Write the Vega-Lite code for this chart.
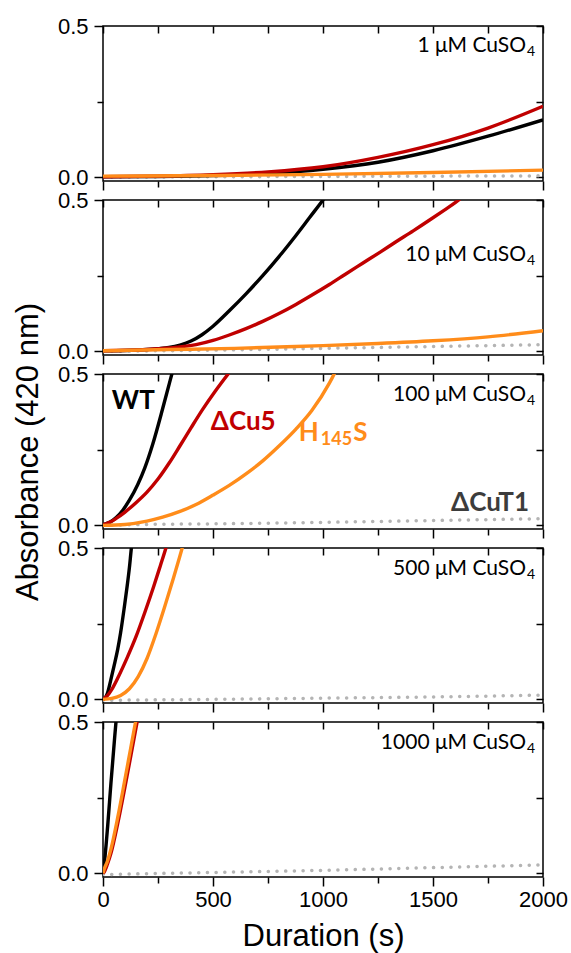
{
"$schema":"https://vega.github.io/schema/vega-lite/v6.json",
"padding":{"left":11,"top":14,"right":5,"bottom":3},
"background":"#ffffff",
"spacing":19,
"bounds":"flush",
"config":{
 "view":{"stroke":"#000000","strokeWidth":1.5},
 "line":{"interpolate":"monotone"},
 "axis":{"domain":false,"grid":false,"tickColor":"#000000","tickWidth":1.5,"labelColor":"#000000","labelFont":"Liberation Sans","labelFontSize":22,"titleFont":"Liberation Sans","titleFontSize":31,"titleFontWeight":"normal","titleColor":"#000000","labelFlush":false,"labelOverlap":false}
},
"datasets":{
 "curves":[
  {"p":"1","s":"WT","t":0,"a":0.002},{"p":"1","s":"WT","t":250,"a":0.003},{"p":"1","s":"WT","t":500,"a":0.006},{"p":"1","s":"WT","t":750,"a":0.013},{"p":"1","s":"WT","t":1000,"a":0.027},{"p":"1","s":"WT","t":1250,"a":0.05},{"p":"1","s":"WT","t":1500,"a":0.088},{"p":"1","s":"WT","t":1750,"a":0.136},{"p":"1","s":"WT","t":2000,"a":0.19},
  {"p":"1","s":"ΔCu5","t":0,"a":0.002},{"p":"1","s":"ΔCu5","t":250,"a":0.004},{"p":"1","s":"ΔCu5","t":500,"a":0.009},{"p":"1","s":"ΔCu5","t":750,"a":0.018},{"p":"1","s":"ΔCu5","t":1000,"a":0.035},{"p":"1","s":"ΔCu5","t":1250,"a":0.066},{"p":"1","s":"ΔCu5","t":1500,"a":0.108},{"p":"1","s":"ΔCu5","t":1750,"a":0.163},{"p":"1","s":"ΔCu5","t":2000,"a":0.235},
  {"p":"1","s":"H145S","t":0,"a":0.004},{"p":"1","s":"H145S","t":500,"a":0.006},{"p":"1","s":"H145S","t":1000,"a":0.01},{"p":"1","s":"H145S","t":1500,"a":0.016},{"p":"1","s":"H145S","t":2000,"a":0.024},
  {"p":"1","s":"ΔCuT1","t":0,"a":0.001},{"p":"1","s":"ΔCuT1","t":500,"a":0.002},{"p":"1","s":"ΔCuT1","t":1000,"a":0.003},{"p":"1","s":"ΔCuT1","t":1500,"a":0.004},{"p":"1","s":"ΔCuT1","t":2000,"a":0.005},

  {"p":"10","s":"WT","t":0,"a":0.002},{"p":"10","s":"WT","t":100,"a":0.003},{"p":"10","s":"WT","t":200,"a":0.006},{"p":"10","s":"WT","t":250,"a":0.009},{"p":"10","s":"WT","t":300,"a":0.013},{"p":"10","s":"WT","t":350,"a":0.021},{"p":"10","s":"WT","t":400,"a":0.034},{"p":"10","s":"WT","t":450,"a":0.055},{"p":"10","s":"WT","t":500,"a":0.083},{"p":"10","s":"WT","t":574,"a":0.134},{"p":"10","s":"WT","t":650,"a":0.19},{"p":"10","s":"WT","t":726,"a":0.25},{"p":"10","s":"WT","t":800,"a":0.313},{"p":"10","s":"WT","t":877,"a":0.383},{"p":"10","s":"WT","t":940,"a":0.443},{"p":"10","s":"WT","t":1000,"a":0.5},{"p":"10","s":"WT","t":1020,"a":0.52},
  {"p":"10","s":"ΔCu5","t":0,"a":0.002},{"p":"10","s":"ΔCu5","t":200,"a":0.006},{"p":"10","s":"ΔCu5","t":300,"a":0.011},{"p":"10","s":"ΔCu5","t":423,"a":0.022},{"p":"10","s":"ΔCu5","t":500,"a":0.036},{"p":"10","s":"ΔCu5","t":574,"a":0.054},{"p":"10","s":"ΔCu5","t":650,"a":0.075},{"p":"10","s":"ΔCu5","t":726,"a":0.099},{"p":"10","s":"ΔCu5","t":800,"a":0.125},{"p":"10","s":"ΔCu5","t":877,"a":0.155},{"p":"10","s":"ΔCu5","t":950,"a":0.186},{"p":"10","s":"ΔCu5","t":1029,"a":0.221},{"p":"10","s":"ΔCu5","t":1100,"a":0.254},{"p":"10","s":"ΔCu5","t":1180,"a":0.291},{"p":"10","s":"ΔCu5","t":1260,"a":0.328},{"p":"10","s":"ΔCu5","t":1332,"a":0.362},{"p":"10","s":"ΔCu5","t":1410,"a":0.398},{"p":"10","s":"ΔCu5","t":1483,"a":0.433},{"p":"10","s":"ΔCu5","t":1550,"a":0.466},{"p":"10","s":"ΔCu5","t":1604,"a":0.493},{"p":"10","s":"ΔCu5","t":1625,"a":0.505},
  {"p":"10","s":"H145S","t":0,"a":0.002},{"p":"10","s":"H145S","t":300,"a":0.006},{"p":"10","s":"H145S","t":600,"a":0.01},{"p":"10","s":"H145S","t":877,"a":0.016},{"p":"10","s":"H145S","t":1000,"a":0.019},{"p":"10","s":"H145S","t":1250,"a":0.026},{"p":"10","s":"H145S","t":1500,"a":0.035},{"p":"10","s":"H145S","t":1750,"a":0.048},{"p":"10","s":"H145S","t":2000,"a":0.068},
  {"p":"10","s":"ΔCuT1","t":0,"a":0.0},{"p":"10","s":"ΔCuT1","t":500,"a":0.004},{"p":"10","s":"ΔCuT1","t":1000,"a":0.01},{"p":"10","s":"ΔCuT1","t":1500,"a":0.016},{"p":"10","s":"ΔCuT1","t":2000,"a":0.022},

  {"p":"100","s":"WT","t":0,"a":0.002},{"p":"100","s":"WT","t":30,"a":0.01},{"p":"100","s":"WT","t":60,"a":0.026},{"p":"100","s":"WT","t":90,"a":0.05},{"p":"100","s":"WT","t":120,"a":0.083},{"p":"100","s":"WT","t":158,"a":0.135},{"p":"100","s":"WT","t":190,"a":0.19},{"p":"100","s":"WT","t":226,"a":0.268},{"p":"100","s":"WT","t":271,"a":0.385},{"p":"100","s":"WT","t":302,"a":0.47},{"p":"100","s":"WT","t":313,"a":0.5},{"p":"100","s":"WT","t":320,"a":0.52},
  {"p":"100","s":"ΔCu5","t":0,"a":0.002},{"p":"100","s":"ΔCu5","t":30,"a":0.01},{"p":"100","s":"ΔCu5","t":60,"a":0.023},{"p":"100","s":"ΔCu5","t":100,"a":0.044},{"p":"100","s":"ΔCu5","t":150,"a":0.075},{"p":"100","s":"ΔCu5","t":200,"a":0.11},{"p":"100","s":"ΔCu5","t":250,"a":0.153},{"p":"100","s":"ΔCu5","t":300,"a":0.205},{"p":"100","s":"ΔCu5","t":350,"a":0.263},{"p":"100","s":"ΔCu5","t":400,"a":0.322},{"p":"100","s":"ΔCu5","t":453,"a":0.383},{"p":"100","s":"ΔCu5","t":510,"a":0.443},{"p":"100","s":"ΔCu5","t":574,"a":0.505},
  {"p":"100","s":"H145S","t":0,"a":0.0},{"p":"100","s":"H145S","t":100,"a":0.003},{"p":"100","s":"H145S","t":200,"a":0.014},{"p":"100","s":"H145S","t":271,"a":0.027},{"p":"100","s":"H145S","t":350,"a":0.046},{"p":"100","s":"H145S","t":423,"a":0.069},{"p":"100","s":"H145S","t":500,"a":0.1},{"p":"100","s":"H145S","t":574,"a":0.132},{"p":"100","s":"H145S","t":650,"a":0.17},{"p":"100","s":"H145S","t":726,"a":0.213},{"p":"100","s":"H145S","t":800,"a":0.262},{"p":"100","s":"H145S","t":877,"a":0.318},{"p":"100","s":"H145S","t":950,"a":0.38},{"p":"100","s":"H145S","t":1029,"a":0.47},{"p":"100","s":"H145S","t":1051,"a":0.5},{"p":"100","s":"H145S","t":1070,"a":0.525},
  {"p":"100","s":"ΔCuT1","t":0,"a":0.0},{"p":"100","s":"ΔCuT1","t":200,"a":0.003},{"p":"100","s":"ΔCuT1","t":500,"a":0.005},{"p":"100","s":"ΔCuT1","t":1000,"a":0.01},{"p":"100","s":"ΔCuT1","t":1500,"a":0.016},{"p":"100","s":"ΔCuT1","t":2000,"a":0.022},

  {"p":"500","s":"WT","t":0,"a":0.0},{"p":"500","s":"WT","t":10,"a":0.005},{"p":"500","s":"WT","t":20,"a":0.02},{"p":"500","s":"WT","t":36,"a":0.066},{"p":"500","s":"WT","t":50,"a":0.11},{"p":"500","s":"WT","t":67,"a":0.166},{"p":"500","s":"WT","t":80,"a":0.22},{"p":"500","s":"WT","t":97,"a":0.305},{"p":"500","s":"WT","t":110,"a":0.375},{"p":"500","s":"WT","t":120,"a":0.435},{"p":"500","s":"WT","t":129,"a":0.5},{"p":"500","s":"WT","t":134,"a":0.53},
  {"p":"500","s":"ΔCu5","t":0,"a":0.0},{"p":"500","s":"ΔCu5","t":20,"a":0.012},{"p":"500","s":"ΔCu5","t":40,"a":0.033},{"p":"500","s":"ΔCu5","t":70,"a":0.075},{"p":"500","s":"ΔCu5","t":110,"a":0.138},{"p":"500","s":"ΔCu5","t":150,"a":0.207},{"p":"500","s":"ΔCu5","t":190,"a":0.287},{"p":"500","s":"ΔCu5","t":230,"a":0.372},{"p":"500","s":"ΔCu5","t":260,"a":0.44},{"p":"500","s":"ΔCu5","t":286,"a":0.5},{"p":"500","s":"ΔCu5","t":292,"a":0.515},
  {"p":"500","s":"H145S","t":0,"a":0.0},{"p":"500","s":"H145S","t":40,"a":0.003},{"p":"500","s":"H145S","t":80,"a":0.013},{"p":"500","s":"H145S","t":120,"a":0.035},{"p":"500","s":"H145S","t":160,"a":0.075},{"p":"500","s":"H145S","t":200,"a":0.135},{"p":"500","s":"H145S","t":240,"a":0.215},{"p":"500","s":"H145S","t":280,"a":0.305},{"p":"500","s":"H145S","t":320,"a":0.4},{"p":"500","s":"H145S","t":360,"a":0.5},{"p":"500","s":"H145S","t":366,"a":0.515},
  {"p":"500","s":"ΔCuT1","t":0,"a":-0.003},{"p":"500","s":"ΔCuT1","t":500,"a":0.0},{"p":"500","s":"ΔCuT1","t":1000,"a":0.004},{"p":"500","s":"ΔCuT1","t":1500,"a":0.008},{"p":"500","s":"ΔCuT1","t":2000,"a":0.014},

  {"p":"1000","s":"WT","t":0,"a":0.0},{"p":"1000","s":"WT","t":6,"a":0.033},{"p":"1000","s":"WT","t":21,"a":0.154},{"p":"1000","s":"WT","t":36,"a":0.297},{"p":"1000","s":"WT","t":52,"a":0.44},{"p":"1000","s":"WT","t":59,"a":0.5},{"p":"1000","s":"WT","t":63,"a":0.53},
  {"p":"1000","s":"ΔCu5","t":0,"a":0.0},{"p":"1000","s":"ΔCu5","t":6,"a":0.005},{"p":"1000","s":"ΔCu5","t":20,"a":0.03},{"p":"1000","s":"ΔCu5","t":36,"a":0.066},{"p":"1000","s":"ΔCu5","t":67,"a":0.165},{"p":"1000","s":"ΔCu5","t":97,"a":0.275},{"p":"1000","s":"ΔCu5","t":127,"a":0.39},{"p":"1000","s":"ΔCu5","t":155,"a":0.5},{"p":"1000","s":"ΔCu5","t":160,"a":0.52},
  {"p":"1000","s":"H145S","t":0,"a":0.0},{"p":"1000","s":"H145S","t":6,"a":0.015},{"p":"1000","s":"H145S","t":20,"a":0.04},{"p":"1000","s":"H145S","t":36,"a":0.08},{"p":"1000","s":"H145S","t":67,"a":0.185},{"p":"1000","s":"H145S","t":97,"a":0.3},{"p":"1000","s":"H145S","t":125,"a":0.41},{"p":"1000","s":"H145S","t":148,"a":0.5},{"p":"1000","s":"H145S","t":152,"a":0.515},
  {"p":"1000","s":"ΔCuT1","t":0,"a":-0.004},{"p":"1000","s":"ΔCuT1","t":200,"a":-0.001},{"p":"1000","s":"ΔCuT1","t":500,"a":0.003},{"p":"1000","s":"ΔCuT1","t":1000,"a":0.01},{"p":"1000","s":"ΔCuT1","t":1500,"a":0.019},{"p":"1000","s":"ΔCuT1","t":2000,"a":0.028}
 ],
 "conds":[
  {"p":"1","txt":"1 μM CuSO","sub":"4","t":1923,"a":0.434},
  {"p":"10","txt":"10 μM CuSO","sub":"4","t":1923,"a":0.319},
  {"p":"100","txt":"100 μM CuSO","sub":"4","t":1923,"a":0.431},
  {"p":"500","txt":"500 μM CuSO","sub":"4","t":1923,"a":0.43},
  {"p":"1000","txt":"1000 μM CuSO","sub":"4","t":1923,"a":0.43}
 ],
 "strains":[
  {"s":"WT","txt":"WT","t":40,"a":0.412},
  {"s":"ΔCu5","txt":"ΔCu5","t":490,"a":0.343},
  {"s":"H145S","txt":"H","t":890,"a":0.304},
  {"s":"H145S","txt":"S","t":1137,"a":0.304},
  {"s":"ΔCuT1","txt":"ΔCuT1","t":1582,"a":0.075}
 ],
 "strainsub":[
  {"s":"H145S","txt":"145","t":990,"a":0.282}
 ]
},
"vconcat":[
 {"width":440,"height":155,
  "layer":[
   {"data":{"name":"curves"},"transform":[{"filter":"datum.p=='1' && datum.s=='ΔCuT1'"}],
    "mark":{"type":"line","color":"#b4b4b4","strokeWidth":3.5,"strokeDash":[0.1,8.6],"strokeCap":"round","clip":true},
    "encoding":{"x":{"field":"t","type":"quantitative","scale":{"domain":[0,2000]},"axis":{"orient":"bottom","values":[0,500,1000,1500,2000],"tickSize":9,"labels":false,"title":null}},
     "y":{"field":"a","type":"quantitative","scale":{"domain":[-0.012,0.5]},"axis":{"orient":"left","values":[0,0.5],"format":".1f","tickSize":9,"labelPadding":6,"title":null}}}},
   {"data":{"name":"curves"},"transform":[{"filter":"datum.p=='1' && datum.s!='ΔCuT1'"}],
    "mark":{"type":"line","strokeWidth":3.4,"clip":true},
    "encoding":{"x":{"field":"t","type":"quantitative","scale":{"domain":[0,2000]},"axis":{"orient":"bottom","values":[250,750,1250,1750],"tickSize":6,"labels":false,"title":null}},
     "y":{"field":"a","type":"quantitative","scale":{"domain":[-0.012,0.5]},"axis":{"orient":"left","values":[0.25],"tickSize":6,"labels":false,"title":null}},
     "color":{"field":"s","type":"nominal","scale":{"domain":["WT","ΔCu5","H145S","ΔCuT1"],"range":["#000000","#c00000","#ff8c1a","#3c3c3c"]},"legend":null}}},
   {"data":{"name":"conds"},"transform":[{"filter":"datum.p=='1'"}],
    "mark":{"type":"text","align":"right","baseline":"middle","font":"Lato","fontSize":21,"color":"#000000"},
    "encoding":{"x":{"field":"t","type":"quantitative","scale":{"domain":[0,2000]},"axis":{"orient":"top","values":[0,250,500,750,1000,1250,1500,1750,2000],"tickSize":-7,"labels":false,"title":null}},
     "y":{"field":"a","type":"quantitative","scale":{"domain":[-0.012,0.5]},"axis":{"orient":"right","values":[0,0.25,0.5],"tickSize":-7,"labels":false,"title":null}},
     "text":{"field":"txt"}}},
   {"data":{"name":"conds"},"transform":[{"filter":"datum.p=='1'"}],
    "mark":{"type":"text","align":"left","baseline":"middle","font":"Lato","fontSize":14,"dy":6,"dx":1,"color":"#000000"},
    "encoding":{"x":{"field":"t","type":"quantitative","scale":{"domain":[0,2000]},"axis":null},"y":{"field":"a","type":"quantitative","scale":{"domain":[-0.012,0.5]},"axis":null},"text":{"field":"sub"}}}
  ],
  "resolve":{"axis":{"x":"independent","y":"independent"}}},

 {"width":440,"height":155,
  "layer":[
   {"data":{"name":"curves"},"transform":[{"filter":"datum.p=='10' && datum.s=='ΔCuT1'"}],
    "mark":{"type":"line","color":"#b4b4b4","strokeWidth":3.5,"strokeDash":[0.1,8.6],"strokeCap":"round","clip":true},
    "encoding":{"x":{"field":"t","type":"quantitative","scale":{"domain":[0,2000]},"axis":{"orient":"bottom","values":[0,500,1000,1500,2000],"tickSize":9,"labels":false,"title":null}},
     "y":{"field":"a","type":"quantitative","scale":{"domain":[-0.012,0.5]},"axis":{"orient":"left","values":[0,0.5],"format":".1f","tickSize":9,"labelPadding":6,"title":null}}}},
   {"data":{"name":"curves"},"transform":[{"filter":"datum.p=='10' && datum.s!='ΔCuT1'"}],
    "mark":{"type":"line","strokeWidth":3.4,"clip":true},
    "encoding":{"x":{"field":"t","type":"quantitative","scale":{"domain":[0,2000]},"axis":{"orient":"bottom","values":[250,750,1250,1750],"tickSize":6,"labels":false,"title":null}},
     "y":{"field":"a","type":"quantitative","scale":{"domain":[-0.012,0.5]},"axis":{"orient":"left","values":[0.25],"tickSize":6,"labels":false,"title":null}},
     "color":{"field":"s","type":"nominal","scale":{"domain":["WT","ΔCu5","H145S","ΔCuT1"],"range":["#000000","#c00000","#ff8c1a","#3c3c3c"]},"legend":null}}},
   {"data":{"name":"conds"},"transform":[{"filter":"datum.p=='10'"}],
    "mark":{"type":"text","align":"right","baseline":"middle","font":"Lato","fontSize":21,"color":"#000000"},
    "encoding":{"x":{"field":"t","type":"quantitative","scale":{"domain":[0,2000]},"axis":{"orient":"top","values":[0,250,500,750,1000,1250,1500,1750,2000],"tickSize":-7,"labels":false,"title":null}},
     "y":{"field":"a","type":"quantitative","scale":{"domain":[-0.012,0.5]},"axis":{"orient":"right","values":[0,0.25,0.5],"tickSize":-7,"labels":false,"title":null}},
     "text":{"field":"txt"}}},
   {"data":{"name":"conds"},"transform":[{"filter":"datum.p=='10'"}],
    "mark":{"type":"text","align":"left","baseline":"middle","font":"Lato","fontSize":14,"dy":6,"dx":1,"color":"#000000"},
    "encoding":{"x":{"field":"t","type":"quantitative","scale":{"domain":[0,2000]},"axis":null},"y":{"field":"a","type":"quantitative","scale":{"domain":[-0.012,0.5]},"axis":null},"text":{"field":"sub"}}}
  ],
  "resolve":{"axis":{"x":"independent","y":"independent"}}},

 {"width":440,"height":155,
  "layer":[
   {"data":{"name":"curves"},"transform":[{"filter":"datum.p=='100' && datum.s=='ΔCuT1'"}],
    "mark":{"type":"line","color":"#b4b4b4","strokeWidth":3.5,"strokeDash":[0.1,8.6],"strokeCap":"round","clip":true},
    "encoding":{"x":{"field":"t","type":"quantitative","scale":{"domain":[0,2000]},"axis":{"orient":"bottom","values":[0,500,1000,1500,2000],"tickSize":9,"labels":false,"title":null}},
     "y":{"field":"a","type":"quantitative","scale":{"domain":[-0.012,0.5]},"axis":{"orient":"left","values":[0,0.5],"format":".1f","tickSize":9,"labelPadding":6,"title":"Absorbance (420 nm)","titlePadding":13}}}},
   {"data":{"name":"curves"},"transform":[{"filter":"datum.p=='100' && datum.s!='ΔCuT1'"}],
    "mark":{"type":"line","strokeWidth":3.4,"clip":true},
    "encoding":{"x":{"field":"t","type":"quantitative","scale":{"domain":[0,2000]},"axis":{"orient":"bottom","values":[250,750,1250,1750],"tickSize":6,"labels":false,"title":null}},
     "y":{"field":"a","type":"quantitative","scale":{"domain":[-0.012,0.5]},"axis":{"orient":"left","values":[0.25],"tickSize":6,"labels":false,"title":null}},
     "color":{"field":"s","type":"nominal","scale":{"domain":["WT","ΔCu5","H145S","ΔCuT1"],"range":["#000000","#c00000","#ff8c1a","#3c3c3c"]},"legend":null}}},
   {"data":{"name":"conds"},"transform":[{"filter":"datum.p=='100'"}],
    "mark":{"type":"text","align":"right","baseline":"middle","font":"Lato","fontSize":21,"color":"#000000"},
    "encoding":{"x":{"field":"t","type":"quantitative","scale":{"domain":[0,2000]},"axis":{"orient":"top","values":[0,250,500,750,1000,1250,1500,1750,2000],"tickSize":-7,"labels":false,"title":null}},
     "y":{"field":"a","type":"quantitative","scale":{"domain":[-0.012,0.5]},"axis":{"orient":"right","values":[0,0.25,0.5],"tickSize":-7,"labels":false,"title":null}},
     "text":{"field":"txt"}}},
   {"data":{"name":"conds"},"transform":[{"filter":"datum.p=='100'"}],
    "mark":{"type":"text","align":"left","baseline":"middle","font":"Lato","fontSize":14,"dy":6,"dx":1,"color":"#000000"},
    "encoding":{"x":{"field":"t","type":"quantitative","scale":{"domain":[0,2000]},"axis":null},"y":{"field":"a","type":"quantitative","scale":{"domain":[-0.012,0.5]},"axis":null},"text":{"field":"sub"}}},
   {"data":{"name":"strains"},
    "mark":{"type":"text","align":"left","baseline":"middle","font":"Lato","fontSize":26,"fontWeight":"bold"},
    "encoding":{"x":{"field":"t","type":"quantitative","scale":{"domain":[0,2000]},"axis":null},"y":{"field":"a","type":"quantitative","scale":{"domain":[-0.012,0.5]},"axis":null},"text":{"field":"txt"},
     "color":{"field":"s","type":"nominal","scale":{"domain":["WT","ΔCu5","H145S","ΔCuT1"],"range":["#000000","#c00000","#ff8c1a","#3c3c3c"]},"legend":null}}},
   {"data":{"name":"strainsub"},
    "mark":{"type":"text","align":"left","baseline":"middle","font":"Lato","fontSize":18,"fontWeight":"bold"},
    "encoding":{"x":{"field":"t","type":"quantitative","scale":{"domain":[0,2000]},"axis":null},"y":{"field":"a","type":"quantitative","scale":{"domain":[-0.012,0.5]},"axis":null},"text":{"field":"txt"},
     "color":{"field":"s","type":"nominal","scale":{"domain":["WT","ΔCu5","H145S","ΔCuT1"],"range":["#000000","#c00000","#ff8c1a","#3c3c3c"]},"legend":null}}}
  ],
  "resolve":{"axis":{"x":"independent","y":"independent"}}},

 {"width":440,"height":155,
  "layer":[
   {"data":{"name":"curves"},"transform":[{"filter":"datum.p=='500' && datum.s=='ΔCuT1'"}],
    "mark":{"type":"line","color":"#b4b4b4","strokeWidth":3.5,"strokeDash":[0.1,8.6],"strokeCap":"round","clip":true},
    "encoding":{"x":{"field":"t","type":"quantitative","scale":{"domain":[0,2000]},"axis":{"orient":"bottom","values":[0,500,1000,1500,2000],"tickSize":9,"labels":false,"title":null}},
     "y":{"field":"a","type":"quantitative","scale":{"domain":[-0.012,0.5]},"axis":{"orient":"left","values":[0,0.5],"format":".1f","tickSize":9,"labelPadding":6,"title":null}}}},
   {"data":{"name":"curves"},"transform":[{"filter":"datum.p=='500' && datum.s!='ΔCuT1'"}],
    "mark":{"type":"line","strokeWidth":3.4,"clip":true},
    "encoding":{"x":{"field":"t","type":"quantitative","scale":{"domain":[0,2000]},"axis":{"orient":"bottom","values":[250,750,1250,1750],"tickSize":6,"labels":false,"title":null}},
     "y":{"field":"a","type":"quantitative","scale":{"domain":[-0.012,0.5]},"axis":{"orient":"left","values":[0.25],"tickSize":6,"labels":false,"title":null}},
     "color":{"field":"s","type":"nominal","scale":{"domain":["WT","ΔCu5","H145S","ΔCuT1"],"range":["#000000","#c00000","#ff8c1a","#3c3c3c"]},"legend":null}}},
   {"data":{"name":"conds"},"transform":[{"filter":"datum.p=='500'"}],
    "mark":{"type":"text","align":"right","baseline":"middle","font":"Lato","fontSize":21,"color":"#000000"},
    "encoding":{"x":{"field":"t","type":"quantitative","scale":{"domain":[0,2000]},"axis":{"orient":"top","values":[0,250,500,750,1000,1250,1500,1750,2000],"tickSize":-7,"labels":false,"title":null}},
     "y":{"field":"a","type":"quantitative","scale":{"domain":[-0.012,0.5]},"axis":{"orient":"right","values":[0,0.25,0.5],"tickSize":-7,"labels":false,"title":null}},
     "text":{"field":"txt"}}},
   {"data":{"name":"conds"},"transform":[{"filter":"datum.p=='500'"}],
    "mark":{"type":"text","align":"left","baseline":"middle","font":"Lato","fontSize":14,"dy":6,"dx":1,"color":"#000000"},
    "encoding":{"x":{"field":"t","type":"quantitative","scale":{"domain":[0,2000]},"axis":null},"y":{"field":"a","type":"quantitative","scale":{"domain":[-0.012,0.5]},"axis":null},"text":{"field":"sub"}}}
  ],
  "resolve":{"axis":{"x":"independent","y":"independent"}}},

 {"width":440,"height":155,
  "layer":[
   {"data":{"name":"curves"},"transform":[{"filter":"datum.p=='1000' && datum.s=='ΔCuT1'"}],
    "mark":{"type":"line","color":"#b4b4b4","strokeWidth":3.5,"strokeDash":[0.1,8.6],"strokeCap":"round","clip":true},
    "encoding":{"x":{"field":"t","type":"quantitative","scale":{"domain":[0,2000]},"axis":{"orient":"bottom","values":[0,500,1000,1500,2000],"format":"d","tickSize":9,"labels":true,"labelPadding":3,"title":"Duration (s)","titlePadding":11}},
     "y":{"field":"a","type":"quantitative","scale":{"domain":[-0.012,0.5]},"axis":{"orient":"left","values":[0,0.5],"format":".1f","tickSize":9,"labelPadding":6,"title":null}}}},
   {"data":{"name":"curves"},"transform":[{"filter":"datum.p=='1000' && datum.s!='ΔCuT1'"}],
    "mark":{"type":"line","strokeWidth":3.4,"clip":true},
    "encoding":{"x":{"field":"t","type":"quantitative","scale":{"domain":[0,2000]},"axis":{"orient":"bottom","values":[250,750,1250,1750],"tickSize":6,"labels":false,"title":null}},
     "y":{"field":"a","type":"quantitative","scale":{"domain":[-0.012,0.5]},"axis":{"orient":"left","values":[0.25],"tickSize":6,"labels":false,"title":null}},
     "color":{"field":"s","type":"nominal","scale":{"domain":["WT","ΔCu5","H145S","ΔCuT1"],"range":["#000000","#c00000","#ff8c1a","#3c3c3c"]},"legend":null}}},
   {"data":{"name":"conds"},"transform":[{"filter":"datum.p=='1000'"}],
    "mark":{"type":"text","align":"right","baseline":"middle","font":"Lato","fontSize":21,"color":"#000000"},
    "encoding":{"x":{"field":"t","type":"quantitative","scale":{"domain":[0,2000]},"axis":{"orient":"top","values":[0,250,500,750,1000,1250,1500,1750,2000],"tickSize":-7,"labels":false,"title":null}},
     "y":{"field":"a","type":"quantitative","scale":{"domain":[-0.012,0.5]},"axis":{"orient":"right","values":[0,0.25,0.5],"tickSize":-7,"labels":false,"title":null}},
     "text":{"field":"txt"}}},
   {"data":{"name":"conds"},"transform":[{"filter":"datum.p=='1000'"}],
    "mark":{"type":"text","align":"left","baseline":"middle","font":"Lato","fontSize":14,"dy":6,"dx":1,"color":"#000000"},
    "encoding":{"x":{"field":"t","type":"quantitative","scale":{"domain":[0,2000]},"axis":null},"y":{"field":"a","type":"quantitative","scale":{"domain":[-0.012,0.5]},"axis":null},"text":{"field":"sub"}}}
  ],
  "resolve":{"axis":{"x":"independent","y":"independent"}}}
]
}
